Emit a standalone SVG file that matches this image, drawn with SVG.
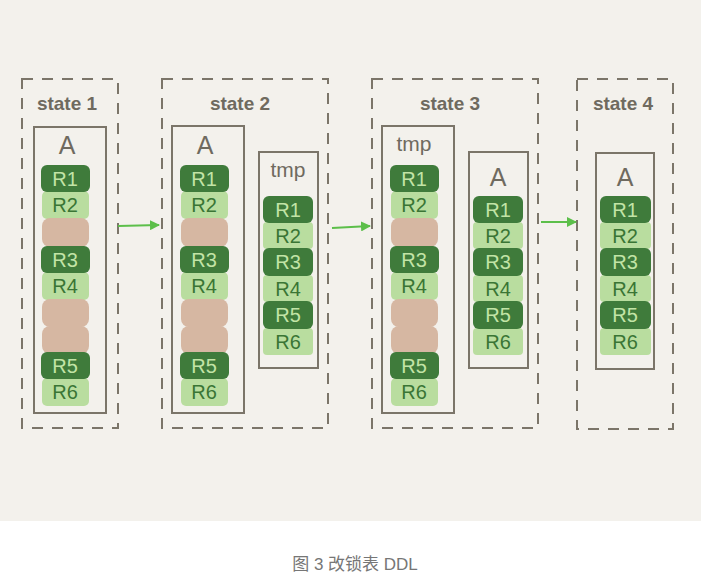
<svg xmlns="http://www.w3.org/2000/svg" width="711" height="588" viewBox="0 0 711 588">
<defs>
<style>
.bg{fill:#f3f1ec}
.dash{fill:none;stroke:#7b7569;stroke-width:2;stroke-dasharray:11,9}
.tbl{fill:none;stroke:#7b7569;stroke-width:2}
.title{font-family:"Liberation Sans",Arial,sans-serif;font-size:19px;font-weight:bold;fill:#6f6a5f;text-anchor:middle}
.name{font-family:"Liberation Sans",Arial,sans-serif;font-size:25px;fill:#6f6a5f;text-anchor:middle}
.tmp{font-family:"Liberation Sans",Arial,sans-serif;font-size:21px;fill:#6f6a5f;text-anchor:middle}
.dk{fill:#3f7b3b}
.lt{fill:#b9dd9f}
.pk{fill:#d6b7a2}
.dkt{font-family:"Liberation Sans",Arial,sans-serif;font-size:20px;fill:#c2e4a6;text-anchor:middle}
.ltt{font-family:"Liberation Sans",Arial,sans-serif;font-size:20px;fill:#3a7535;text-anchor:middle}
.arr{stroke:#5cbf4a;stroke-width:2;fill:none}
.cap{font-family:"Liberation Sans","Noto Sans CJK SC",sans-serif;font-size:17px;fill:#767676;text-anchor:middle}
</style>
<marker id="ah" viewBox="0 0 10 10" refX="9" refY="5" markerWidth="5" markerHeight="5" orient="auto">
<path d="M0,0 L10,5 L0,10 z" fill="#5cbf4a"/>
</marker>
</defs>
<rect class="bg" x="0" y="0" width="701" height="521"/>

<g id="state1">
<rect class="dash" x="22" y="79" width="96" height="349"/>
<text class="title" x="67" y="110">state 1</text>
<g id="s1-A">
<rect class="tbl" x="34" y="127" width="72" height="286"/>
<text class="name" x="67" y="154">A</text>
<rect class="lt" x="42" y="191" width="47" height="28" rx="5"/><text class="ltt" x="65" y="212">R2</text>
<rect class="pk" x="42" y="218" width="47" height="29" rx="8"/>
<rect class="lt" x="42" y="272" width="47" height="28" rx="5"/><text class="ltt" x="65" y="293">R4</text>
<rect class="pk" x="42" y="299" width="47" height="28" rx="8"/>
<rect class="pk" x="42" y="326" width="47" height="28" rx="8"/>
<rect class="lt" x="42" y="378" width="47" height="28" rx="5"/><text class="ltt" x="65" y="399">R6</text>
<rect class="dk" x="41" y="165" width="49" height="27" rx="6"/><text class="dkt" x="65" y="186">R1</text>
<rect class="dk" x="41" y="246" width="49" height="27" rx="6"/><text class="dkt" x="65" y="267">R3</text>
<rect class="dk" x="41" y="352" width="49" height="27" rx="6"/><text class="dkt" x="65" y="373">R5</text>
</g>
</g>

<g id="state2">
<rect class="dash" x="162" y="79" width="166" height="349"/>
<text class="title" x="240" y="110">state 2</text>
<g id="s2-A">
<rect class="tbl" x="172" y="126" width="72" height="287"/>
<text class="name" x="205" y="154">A</text>
<rect class="lt" x="181" y="191" width="47" height="28" rx="5"/><text class="ltt" x="204" y="212">R2</text>
<rect class="pk" x="181" y="218" width="47" height="29" rx="8"/>
<rect class="lt" x="181" y="272" width="47" height="28" rx="5"/><text class="ltt" x="204" y="293">R4</text>
<rect class="pk" x="181" y="299" width="47" height="28" rx="8"/>
<rect class="pk" x="181" y="326" width="47" height="28" rx="8"/>
<rect class="lt" x="181" y="378" width="47" height="28" rx="5"/><text class="ltt" x="204" y="399">R6</text>
<rect class="dk" x="180" y="165" width="49" height="27" rx="6"/><text class="dkt" x="204" y="186">R1</text>
<rect class="dk" x="180" y="246" width="49" height="27" rx="6"/><text class="dkt" x="204" y="267">R3</text>
<rect class="dk" x="180" y="352" width="49" height="27" rx="6"/><text class="dkt" x="204" y="373">R5</text>
</g>
<g id="s2-tmp">
<rect class="tbl" x="259" y="152" width="59" height="216"/>
<text class="tmp" x="288" y="177">tmp</text>
<rect class="lt" x="263" y="222" width="50" height="27" rx="4"/><text class="ltt" x="288" y="243">R2</text>
<rect class="lt" x="263" y="275" width="50" height="27" rx="4"/><text class="ltt" x="288" y="296">R4</text>
<rect class="lt" x="263" y="328" width="50" height="27" rx="4"/><text class="ltt" x="288" y="349">R6</text>
<rect class="dk" x="263" y="196" width="50" height="27" rx="6"/><text class="dkt" x="288" y="217">R1</text>
<rect class="dk" x="263" y="248" width="50" height="28" rx="6"/><text class="dkt" x="288" y="269">R3</text>
<rect class="dk" x="263" y="301" width="50" height="28" rx="6"/><text class="dkt" x="288" y="322">R5</text>
</g>
</g>

<g id="state3">
<rect class="dash" x="372" y="79" width="166" height="349"/>
<text class="title" x="450" y="110">state 3</text>
<g id="s3-tmp">
<rect class="tbl" x="382" y="126" width="72" height="287"/>
<text class="tmp" x="414" y="151">tmp</text>
<rect class="lt" x="391" y="191" width="47" height="28" rx="5"/><text class="ltt" x="414" y="212">R2</text>
<rect class="pk" x="391" y="218" width="47" height="29" rx="8"/>
<rect class="lt" x="391" y="272" width="47" height="28" rx="5"/><text class="ltt" x="414" y="293">R4</text>
<rect class="pk" x="391" y="299" width="47" height="28" rx="8"/>
<rect class="pk" x="391" y="326" width="47" height="28" rx="8"/>
<rect class="lt" x="391" y="378" width="47" height="28" rx="5"/><text class="ltt" x="414" y="399">R6</text>
<rect class="dk" x="390" y="165" width="49" height="27" rx="6"/><text class="dkt" x="414" y="186">R1</text>
<rect class="dk" x="390" y="246" width="49" height="27" rx="6"/><text class="dkt" x="414" y="267">R3</text>
<rect class="dk" x="390" y="352" width="49" height="27" rx="6"/><text class="dkt" x="414" y="373">R5</text>
</g>
<g id="s3-A">
<rect class="tbl" x="469" y="152" width="59" height="216"/>
<text class="name" x="498" y="186">A</text>
<rect class="lt" x="473" y="222" width="50" height="27" rx="4"/><text class="ltt" x="498" y="243">R2</text>
<rect class="lt" x="473" y="275" width="50" height="27" rx="4"/><text class="ltt" x="498" y="296">R4</text>
<rect class="lt" x="473" y="328" width="50" height="27" rx="4"/><text class="ltt" x="498" y="349">R6</text>
<rect class="dk" x="473" y="196" width="50" height="27" rx="6"/><text class="dkt" x="498" y="217">R1</text>
<rect class="dk" x="473" y="248" width="50" height="28" rx="6"/><text class="dkt" x="498" y="269">R3</text>
<rect class="dk" x="473" y="301" width="50" height="28" rx="6"/><text class="dkt" x="498" y="322">R5</text>
</g>
</g>

<g id="state4">
<rect class="dash" x="577" y="79" width="96" height="350"/>
<text class="title" x="623" y="110">state 4</text>
<g id="s4-A">
<rect class="tbl" x="596" y="153" width="58" height="216"/>
<text class="name" x="625" y="186">A</text>
<rect class="lt" x="600" y="222" width="51" height="27" rx="4"/><text class="ltt" x="625" y="243">R2</text>
<rect class="lt" x="600" y="275" width="51" height="27" rx="4"/><text class="ltt" x="625" y="296">R4</text>
<rect class="lt" x="600" y="328" width="51" height="27" rx="4"/><text class="ltt" x="625" y="349">R6</text>
<rect class="dk" x="600" y="196" width="51" height="27" rx="6"/><text class="dkt" x="625" y="217">R1</text>
<rect class="dk" x="600" y="248" width="51" height="28" rx="6"/><text class="dkt" x="625" y="269">R3</text>
<rect class="dk" x="600" y="301" width="51" height="28" rx="6"/><text class="dkt" x="625" y="322">R5</text>
</g>
</g>

<g id="connectors">
<line class="arr" x1="118" y1="226" x2="159" y2="225" marker-end="url(#ah)"/>
<line class="arr" x1="332" y1="228" x2="370" y2="226" marker-end="url(#ah)"/>
<line class="arr" x1="541" y1="222" x2="576" y2="222" marker-end="url(#ah)"/>
</g>

<text class="cap" x="355" y="570">图 3 改锁表 DDL</text>
</svg>
